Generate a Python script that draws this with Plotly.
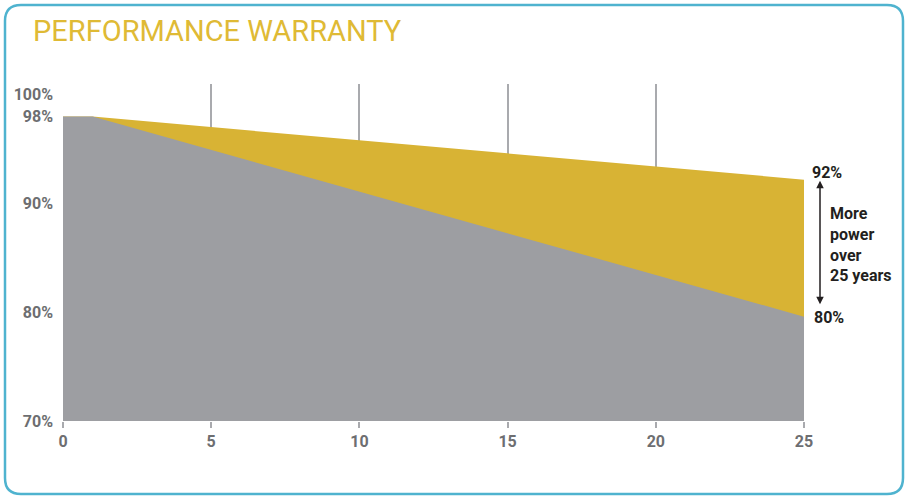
import plotly.graph_objects as go

# warranty curves (years -> % of rated power)
years = [0, 1, 25]
ours = [98, 98, 92.2]
standard = [98, 98, 79.6]

x_ticks = [0, 5, 10, 15, 20, 25]
y_ticks = [70, 80, 90, 98, 100]
y_labels = ['70%', '80%', '90%', '98%', '100%']

W, H = 909, 500
L, R, T, B = 63, 105, 84, 79

colors = {
    'gold': '#d8b334',
    'title': '#dfba35',
    'grey': '#9d9ea2',
    'grid': '#a9aaae',
    'text': '#6d6e71',
    'dark': '#231f20',
    'border': '#4fb3cf',
}


def px_to_paper(px, py):
    pw = W - L - R
    ph = H - T - B
    return (px - L) / pw, (H - B - py) / ph


def rounded_rect(x0, y0, x1, y1, r):
    def p(x, y):
        a, b = px_to_paper(x, y)
        return '{0:.5f},{1:.5f}'.format(a, b)
    path = 'M ' + p(x0 + r, y0)
    path += ' L ' + p(x1 - r, y0)
    path += ' Q ' + p(x1, y0) + ' ' + p(x1, y0 + r)
    path += ' L ' + p(x1, y1 - r)
    path += ' Q ' + p(x1, y1) + ' ' + p(x1 - r, y1)
    path += ' L ' + p(x0 + r, y1)
    path += ' Q ' + p(x0, y1) + ' ' + p(x0, y1 - r)
    path += ' L ' + p(x0, y0 + r)
    path += ' Q ' + p(x0, y0) + ' ' + p(x0 + r, y0) + ' Z'
    return path


font = 'Roboto'
label_font = dict(family=font, size=16, color=colors['text'], weight='bold')
note_font = dict(family=font, size=16, color=colors['dark'], weight='bold')

fig = go.Figure()
fig.add_trace(go.Scatter(
    x=years, y=ours, fill='tozeroy', mode='lines',
    line=dict(width=0, color=colors['gold']), fillcolor=colors['gold'],
    hoverinfo='skip', showlegend=False
))
fig.add_trace(go.Scatter(
    x=years, y=standard, fill='tozeroy', mode='lines',
    line=dict(width=0, color=colors['grey']), fillcolor=colors['grey'],
    hoverinfo='skip', showlegend=False
))

fig.update_layout(
    width=W, height=H,
    margin=dict(l=L, r=R, t=T, b=B),
    paper_bgcolor='white', plot_bgcolor='white',
    title=dict(
        text='PERFORMANCE WARRANTY', xref='container', x=33 / W,
        yref='container', y=1 - 31 / H, xanchor='left', yanchor='middle',
        font=dict(family=font, size=29, color=colors['title'])
    ),
    xaxis=dict(
        range=[0, 25], tickvals=x_ticks, showgrid=True,
        gridcolor=colors['grid'], gridwidth=2, zeroline=False,
        ticks='outside', ticklen=6, tickwidth=2, tickcolor=colors['grid'],
        tickfont=label_font, showline=False
    ),
    yaxis=dict(
        range=[70, 101], tickvals=y_ticks, ticktext=y_labels,
        showgrid=False, zeroline=False, ticks='', ticklabelstandoff=9,
        tickfont=label_font
    ),
    shapes=[dict(
        type='path', xref='paper', yref='paper',
        path=rounded_rect(5, 5, 903, 494, 16),
        line=dict(color=colors['border'], width=2.5)
    )],
)

fig.add_annotation(
    xref='paper', yref='y', x=px_to_paper(820, 0)[0], y=ours[-1] - 0.1,
    axref='pixel', ayref='y', ax=0, ay=standard[-1] + 1.0,
    showarrow=True, arrowhead=2, startarrowhead=2, arrowside='end+start',
    arrowsize=1, arrowwidth=1.5, arrowcolor=colors['dark'], text=''
)
fig.add_annotation(
    xref='paper', yref='y', x=px_to_paper(810, 0)[0], y=ours[-1] + 0.7,
    text='92%', showarrow=False, xanchor='left', yanchor='middle',
    font=note_font
)
fig.add_annotation(
    xref='paper', yref='y', x=px_to_paper(812, 0)[0], y=standard[-1] - 0.1,
    text='80%', showarrow=False, xanchor='left', yanchor='middle',
    font=note_font
)
fig.add_annotation(
    xref='paper', yref='y', x=px_to_paper(828, 0)[0], y=86.2,
    text='More<br>power<br>over<br>25 years', showarrow=False,
    xanchor='left', yanchor='middle', align='left',
    font=note_font
)

fig.write_html('out.html', config={'displayModeBar': False},
               post_script="document.body.style.margin='0';")
